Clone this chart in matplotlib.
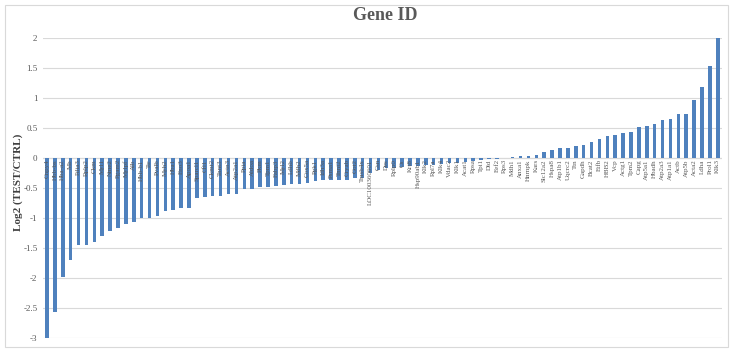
import numpy as np
import matplotlib.pyplot as plt
from matplotlib.patches import Rectangle

genes = ["Cnpy4", "Hbb-bs", "Hba-a2", "Mb", "Pdia3", "Rplp2", "Ckm", "Myl1",
         "Nme2", "Pgam2", "Mylpf", "Alb", "Hbb-b1", "Ttr", "Pvalb", "Myh2",
         "Hba1", "Eno3", "Apoa1", "Sparcl1", "Cfl1", "Ckmt2", "Tnnt3", "Actn3",
         "Atp2a1", "Ppia", "Aldoa", "Pkm", "Tpm1", "Fabp3", "Myl2", "Ldhb",
         "Mdh2", "Cox5a", "Pgk1", "Idh3a", "Psma1", "Tnni2", "Cryab", "Got2",
         "Tmsb4x", "LOC100360601", "Gsn", "Des", "Rplp0", "Cs", "Krt8", "Hsp90ab1",
         "Klk2", "Rpl7a", "Klk4", "Vdac2", "Klk1", "Acat1", "Rpsa", "Tpi1",
         "Dld", "Eef2", "Rps3", "Mdh1", "Anxa1", "Hnrnpk", "Kars", "Slc12a2",
         "Hspa8", "Atp1b1", "Uqcrc2", "Ttn", "Gapdh", "Bcat2", "Etfb", "HBB2",
         "Vcp", "Actg1", "Tpm2", "Capg", "Atp5a1", "Hbadh", "Atp2a3", "Atp1a1",
         "Actb", "Atp5b", "Acta2", "Ldha", "Prol1", "Klk3"]

log2_ratio = [-3.00, -2.57, -1.98, -1.70, -1.45, -1.45, -1.40, -1.30,
              -1.22, -1.16, -1.10, -1.06, -1.00, -1.00, -0.97, -0.88,
              -0.86, -0.84, -0.83, -0.66, -0.65, -0.63, -0.63, -0.60,
              -0.60, -0.52, -0.51, -0.49, -0.48, -0.47, -0.45, -0.44,
              -0.44, -0.41, -0.39, -0.37, -0.36, -0.36, -0.36, -0.34,
              -0.33, -0.25, -0.20, -0.17, -0.16, -0.15, -0.14, -0.13,
              -0.12, -0.11, -0.10, -0.09, -0.08, -0.07, -0.05, -0.03,
              -0.02, -0.01, 0.005, 0.02, 0.025, 0.03, 0.05, 0.10,
              0.13, 0.16, 0.17, 0.20, 0.22, 0.26, 0.31, 0.36,
              0.38, 0.41, 0.44, 0.51, 0.53, 0.57, 0.63, 0.65,
              0.73, 0.73, 0.97, 1.19, 1.53, 2.00]

yticks = [-3, -2.5, -2, -1.5, -1, -0.5, 0, 0.5, 1, 1.5, 2]

serif = "Liberation Serif"
grey = "#595959"

fig = plt.figure(figsize=(7.33, 3.52), dpi=100)
ax = fig.add_axes([0.0587, 0.0398, 0.926, 0.8523])

x = np.arange(len(genes))
ax.bar(x, log2_ratio, width=0.45, color="#4F81BD", zorder=2)

ax.set_xlim(-0.5, len(genes) - 0.5)
ax.set_ylim(-3, 2)
ax.set_yticks(yticks)
ax.set_yticklabels([("%g" % t) for t in yticks], fontsize=6.5, family=serif, color=grey)
ax.tick_params(axis="y", length=0, pad=4)
ax.set_xticks([])
ax.grid(axis="y", color="#d9d9d9", linewidth=0.8, zorder=0)
for s in ax.spines.values():
    s.set_visible(False)
ax.axhline(0, color="#bfbfbf", linewidth=0.8, zorder=1)

# gene labels hanging from the zero line
for xi, g in zip(x, genes):
    ax.text(xi, -0.02, g, rotation=90, ha="center", va="top", fontsize=5,
            family=serif, color=grey, zorder=3)

fig.text(18 / 733, 1 - 182 / 352, "Log2 (TEST/CTRL)", rotation=90, ha="center",
         va="center", fontsize=8, fontweight="bold", family=serif, color="#404040")
fig.text(0.525, 1 - 16 / 352, "Gene ID", ha="center", va="center", fontsize=13,
         fontweight="bold", family=serif, color=grey)

fig.patches.append(Rectangle((0.007, 0.014), 0.986, 0.972, transform=fig.transFigure,
                             fill=False, edgecolor="#d9d9d9", linewidth=0.8))

fig.savefig("out.png", dpi=100)
